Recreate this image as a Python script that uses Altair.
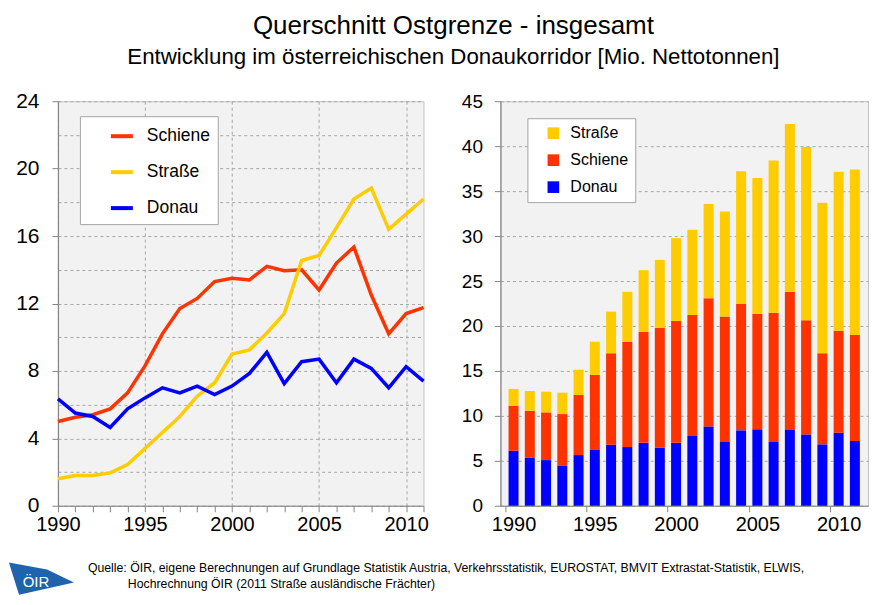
import altair as alt
import pandas as pd

years = list(range(1990, 2012))

# Left panel (lines) - Mio. Nettotonnen
line_schiene = [5.0, 5.25, 5.4, 5.75, 6.7, 8.3, 10.2, 11.7, 12.3, 13.3, 13.5, 13.4, 14.2, 13.95, 14.0, 12.8, 14.4, 15.35, 12.5, 10.2, 11.4, 11.75]
line_strasse = [1.6, 1.8, 1.8, 1.95, 2.45, 3.4, 4.35, 5.3, 6.5, 7.3, 9.0, 9.25, 10.25, 11.4, 14.55, 14.85, 16.5, 18.2, 18.85, 16.4, 17.3, 18.2]
line_donau = [6.34, 5.5, 5.3, 4.65, 5.75, 6.4, 7.0, 6.7, 7.1, 6.6, 7.1, 7.85, 9.1, 7.25, 8.55, 8.7, 7.3, 8.7, 8.15, 7.0, 8.25, 7.4]

# Right panel (stacked bars)
bar_donau = [6.12, 5.38, 5.08, 4.49, 5.64, 6.27, 6.79, 6.53, 7.01, 6.46, 7.01, 7.76, 8.83, 7.09, 8.39, 8.5, 7.09, 8.5, 7.94, 6.83, 8.13, 7.2]
bar_schiene = [5.01, 5.2, 5.31, 5.71, 6.68, 8.28, 10.17, 11.69, 12.36, 13.34, 13.55, 13.46, 14.24, 13.95, 14.05, 12.87, 14.39, 15.3, 12.69, 10.13, 11.35, 11.8]
bar_strasse = [1.87, 2.18, 2.3, 2.38, 2.82, 3.71, 4.64, 5.58, 6.83, 7.55, 9.21, 9.48, 10.5, 11.68, 14.76, 15.08, 16.92, 18.67, 19.27, 16.74, 17.67, 18.4]

line_series = ["Schiene", "Straße", "Donau"]
line_colors = ["#ff3300", "#ffcc00", "#0000ff"]
bar_series = ["Straße", "Schiene", "Donau"]
bar_colors = ["#ffcc00", "#ff3300", "#0000ff"]
stack_order = {"Donau": 0, "Schiene": 1, "Straße": 2}

title_text = "Querschnitt Ostgrenze - insgesamt"
subtitle_text = "Entwicklung im österreichischen Donaukorridor [Mio. Nettotonnen]"
source_1 = "Quelle: ÖIR, eigene Berechnungen auf Grundlage Statistik Austria, Verkehrsstatistik, EUROSTAT, BMVIT Extrastat-Statistik, ELWIS,"
source_2 = "Hochrechnung ÖIR (2011 Straße ausländische Frächter)"
logo_text = "ÖIR"

FONT = "Liberation Sans"

rows = []
for name, vals in zip(line_series, [line_schiene, line_strasse, line_donau]):
    for y, v in zip(years, vals):
        rows.append({"year": y, "series": name, "value": v})
df_line = pd.DataFrame(rows)

rows = []
for name, vals in zip(["Donau", "Schiene", "Straße"], [bar_donau, bar_schiene, bar_strasse]):
    for y, v in zip(years, vals):
        rows.append({"year": y, "series": name, "value": v, "order": stack_order[name]})
df_bar = pd.DataFrame(rows)

LW, LH = 366, 405
RW, RH = 368, 405
band = RW / 22.0

lines = alt.Chart(df_line).mark_line(strokeWidth=3.5).encode(
    x=alt.X("year:Q", scale=alt.Scale(domain=[1990, 2011], nice=False),
            axis=alt.Axis(title=None, values=years, format="d", labelFontSize=20,
                          labelExpr="datum.value % 5 == 0 ? datum.label : ''",
                          gridOpacity={"condition": {"test": "datum.value % 5 == 0", "value": 1}, "value": 0},
                          labelOverlap=False, labelFlush=False, tickSize=6, labelPadding=3)),
    y=alt.Y("value:Q", scale=alt.Scale(domain=[0, 24], nice=False),
            axis=alt.Axis(title=None, values=list(range(0, 25, 2)), labelFontSize=21,
                          labelExpr="datum.value % 4 == 0 ? datum.label : ''",
                          tickOpacity={"condition": {"test": "datum.value % 4 == 0", "value": 1}, "value": 0},
                          labelOverlap=False, labelFlush=False, tickSize=6, labelPadding=13)),
    color=alt.Color("series:N", scale=alt.Scale(domain=line_series, range=line_colors),
                    legend=alt.Legend(title=None, orient="none", legendX=22, legendY=15,
                                      fillColor="white", strokeColor="#a6a6a6", padding=7,
                                      symbolType="stroke", symbolSize=484, symbolStrokeWidth=4,
                                      symbolOffset=22, labelOffset=12, rowPadding=14,
                                      labelFontSize=17.5, labelFont=FONT, labelColor="black",
                                      labelExpr="datum.label + '\u00a0\u00a0\u00a0\u00a0\u00a0'")),
)

dummy = pd.DataFrame({"k": [0]})
logo = alt.Chart(dummy).mark_point(
    shape="M -0.86 -0.46 L 0.23 -0.26 L 1 0.11 L -0.57 0.46 Z",
    filled=True, color="#1f63ad", opacity=1, size=4900, strokeWidth=0,
).encode(x=alt.value(-19), y=alt.value(478))
logo_t = alt.Chart(dummy).mark_text(text=logo_text, color="white", fontSize=15, font=FONT,
                                    align="center", baseline="middle").encode(
    x=alt.value(-22), y=alt.value(481))
src1 = alt.Chart(dummy).mark_text(text=source_1, color="black", fontSize=12.3, font=FONT,
                                  align="left", baseline="middle").encode(
    x=alt.value(30), y=alt.value(467))
src2 = alt.Chart(dummy).mark_text(text=source_2, color="black", fontSize=12.3, font=FONT,
                                  align="left", baseline="middle").encode(
    x=alt.value(70), y=alt.value(483))

left = alt.layer(lines, logo, logo_t, src1, src2).properties(width=LW, height=LH)

bars = alt.Chart(df_bar).mark_bar(size=10).encode(
    x=alt.X("year:Q", scale=alt.Scale(domain=[1989.5, 2011.5], nice=False),
            axis=alt.Axis(title=None, values=[1990, 1995, 2000, 2005, 2010], format="d",
                          labelFontSize=20, grid=False, labelFlush=False, labelOverlap=False,
                          tickOffset=-band / 2, labelOffset=band / 2, tickSize=6, labelPadding=3)),
    y=alt.Y("value:Q", stack="zero", scale=alt.Scale(domain=[0, 45], nice=False),
            axis=alt.Axis(title=None, values=list(range(0, 46, 5)), labelFontSize=19,
                          labelFlush=False, labelOverlap=False, tickSize=6, labelPadding=12)),
    color=alt.Color("series:N", scale=alt.Scale(domain=bar_series, range=bar_colors),
                    legend=alt.Legend(title=None, orient="none", legendX=27, legendY=17,
                                      fillColor="white", strokeColor="#a6a6a6", padding=7,
                                      symbolType="square", symbolSize=136, symbolStrokeWidth=0,
                                      symbolOpacity=1, symbolOffset=11, labelOffset=9, rowPadding=11,
                                      labelFontSize=16, labelFont=FONT, labelColor="black",
                                      labelExpr="datum.label + '\u00a0\u00a0\u00a0\u00a0\u00a0\u00a0\u00a0\u00a0'")),
    order=alt.Order("order:Q", sort="ascending"),
).properties(width=RW, height=RH)

chart = alt.hconcat(left, bars, spacing=77, bounds="flush").resolve_scale(
    color="independent"
).properties(
    title=alt.TitleParams(text=title_text, subtitle=subtitle_text, font=FONT, subtitleFont=FONT,
                          fontSize=26, subtitleFontSize=22.3, fontWeight="normal",
                          color="black", subtitleColor="black", anchor="middle",
                          subtitlePadding=8, offset=21, dx=15),
    padding={"left": 0, "top": 4, "right": 0, "bottom": 0},
).configure_view(
    fill="#f2f2f2", stroke="#c4c4c4", strokeWidth=1
).configure_axis(
    labelFont=FONT, labelColor="black", domainColor="#868686", tickColor="#868686",
    gridColor="#a6a6a6", gridDash=[3, 3], gridWidth=1, domainWidth=1.2
)

chart.save("out.html", embed_options={"renderer": "svg", "actions": False})
